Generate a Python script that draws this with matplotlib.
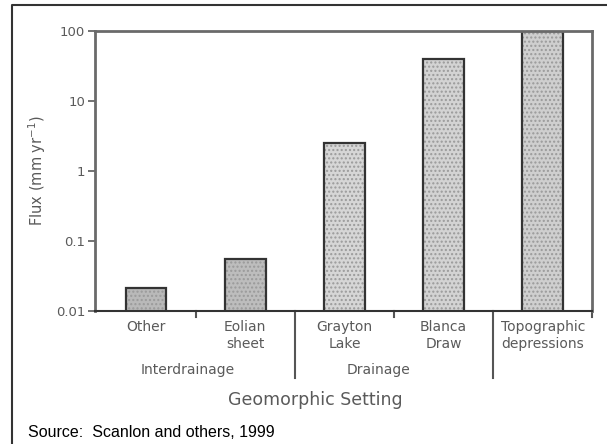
import matplotlib.pyplot as plt
from matplotlib.lines import Line2D
import matplotlib.transforms as mtransforms

# data
categories = ["Other", "Eolian\nsheet", "Grayton\nLake", "Blanca\nDraw", "Topographic\ndepressions"]
flux = [0.021, 0.055, 2.5, 40, 100]
fills = ["#b9b9b9", "#bdbdbd", "#d6d6d6", "#d3d3d3", "#cfcfcf"]
groups = ["Interdrainage", "Drainage"]
group_x = [0.42, 2.34]
yticks = [0.01, 0.1, 1, 10, 100]
ytick_labels = ["0.01", "0.1", "1", "10", "100"]

gray = "#5a5a5a"
fig = plt.figure(figsize=(6.07, 4.44), dpi=100)
ax = fig.add_axes([0.1565, 0.2995, 0.8185, 0.6305])

x = list(range(len(categories)))
# stipple first, then outline on top (bars start at 0, log axis clips them at 0.01)
ax.bar(x, flux, width=0.41, color=fills, hatch="....", edgecolor="#9a9a9a", linewidth=0)
ax.bar(x, flux, width=0.41, fill=False, edgecolor="#333333", linewidth=1.6)

ax.set_yscale("log")
ax.set_ylim(0.01, 100)
ax.set_xlim(-0.515, 4.495)
ax.set_yticks(yticks)
ax.set_yticklabels(ytick_labels)
ax.minorticks_off()
ax.tick_params(axis="y", direction="out", length=5, width=1.2, colors=gray, labelsize=9.5, pad=2)
ax.set_xticks([])

for side in ["left", "top", "right"]:
    ax.spines[side].set_color("#6a6a6a")
    ax.spines[side].set_linewidth(2)
ax.spines["bottom"].set_color("#333333")
ax.spines["bottom"].set_linewidth(1.5)

ax.set_ylabel("Flux (mm yr$^{-1}$)", color=gray, fontsize=10.5, labelpad=6)

trans = mtransforms.blended_transform_factory(ax.transData, ax.transAxes)
for i, lab in enumerate(categories):
    ax.text(i, -0.032, lab, transform=trans, ha="center", va="top",
            fontsize=10, color=gray, linespacing=1.25)

# group separators and small ticks below the axis
for sx in [1.5, 3.5]:
    ax.add_line(Line2D([sx, sx], [0, -0.24], transform=trans, color="#555555", lw=1.5, clip_on=False))
for sx in [0.5, 2.5, 4.495]:
    ax.add_line(Line2D([sx, sx], [0, -0.02], transform=trans, color="#555555", lw=1.5, clip_on=False))

for gx, g in zip(group_x, groups):
    ax.text(gx, -0.21, g, transform=trans, ha="center", va="center", fontsize=10, color=gray)

fig.text(0.519, 0.099, "Geomorphic Setting", ha="center", va="center", fontsize=12.5, color=gray)
fig.text(0.046, 0.027, "Source:  Scanlon and others, 1999", ha="left", va="center",
         fontsize=11.5, family="Liberation Sans", color="black")

# outer frame (left and top edges)
fig.add_artist(Line2D([0.0198, 0.0198, 1.0], [0.0, 0.9887, 0.9887], transform=fig.transFigure,
                      color="#333333", lw=1.5))

fig.savefig("out.png", dpi=100)
